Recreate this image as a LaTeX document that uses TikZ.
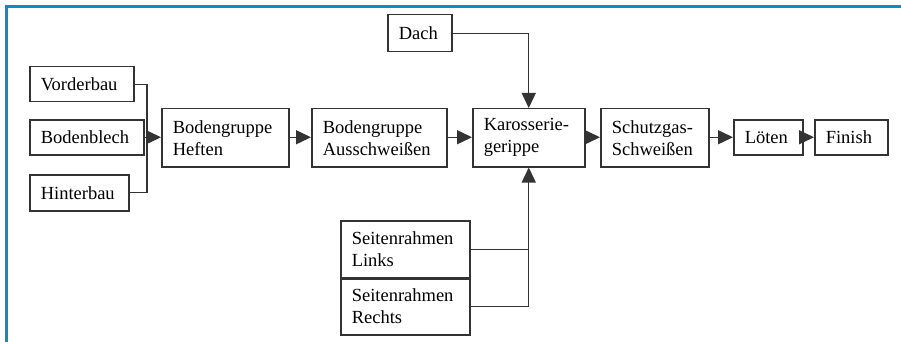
\documentclass[tikz,border=0pt]{standalone}
\usepackage{fontspec}
\setmainfont{Liberation Serif}
\usetikzlibrary{arrows.meta}
\definecolor{framec}{HTML}{0A8EC2}
\definecolor{linec}{HTML}{333333}
\begin{document}
\begin{tikzpicture}[x=1pt,y=-1pt,
  box/.style={draw=linec, line width=1.5pt, anchor=north west, inner xsep=11pt, inner ysep=0pt,
    align=left, font=\fontsize{18.5}{22}\selectfont, text=black},
  conn/.style={draw=linec, line width=1.4pt},
  arr/.style={conn, -{Triangle[length=15pt,width=14pt]}}]
\useasboundingbox (0,0) rectangle (901,342);
\fill[white] (0,0) rectangle (901,342);
\draw[framec, line width=3pt] (6.5,342) -- (6.5,6.5) -- (901,6.5);

\node[box, minimum width=104pt, minimum height=35pt, text width=82pt] (vb) at (29,66) {Vorderbau};
\node[box, minimum width=114pt, minimum height=35pt, text width=92pt] (bb) at (29,119) {Bodenblech};
\node[box, minimum width=99pt, minimum height=36pt, text width=77pt] (hb) at (29,174) {Hinterbau};
\node[box, minimum width=127pt, minimum height=58pt, text width=105pt] (hef) at (161,108) {Bodengruppe\\Heften};
\node[box, minimum width=135pt, minimum height=58pt, text width=113pt] (aus) at (311,108) {Bodengruppe\\Ausschweißen};
\node[box, minimum width=64pt, minimum height=37pt, text width=42pt] (dach) at (387,14) {Dach};
\node[box, minimum width=112pt, minimum height=58pt, text width=90pt] (kar) at (472,108) {Karosserie-\\gerippe};
\node[box, minimum width=108pt, minimum height=58pt, text width=86pt] (sg) at (600,108) {Schutzgas-\\Schweißen};
\node[box, minimum width=69pt, minimum height=35pt, text width=47pt] (lot) at (733,119) {Löten};
\node[box, minimum width=73pt, minimum height=35pt, text width=51pt] (fin) at (814,119) {Finish};
\node[box, minimum width=129pt, minimum height=57pt, text width=107pt] (sl) at (340,220) {Seitenrahmen\\Links};
\node[box, minimum width=129pt, minimum height=57pt, text width=107pt] (sr) at (340,277) {Seitenrahmen\\Rechts};
\draw[linec, line width=3pt] (sl.south west) -- (sl.south east);

\coordinate (j) at (147,0);
\draw[conn] (vb.east) -- (vb.east -| j) -- (hb.east -| j) -- (hb.east);
\draw[arr] (bb.east) -- (bb.east -| hef.west);
\draw[arr] (hef.east |- bb.east) -- (bb.east -| aus.west);
\draw[arr] (aus.east |- bb.east) -- (bb.east -| kar.west);
\draw[arr] (kar.east |- bb.east) -- (bb.east -| sg.west);
\draw[arr] (sg.east |- bb.east) -- (lot.west);
\draw[arr] (lot.east) -- (fin.west);
\draw[arr] (dach.east) -| (kar.north);
\draw[conn] (sl.east) -- (sl.east -| kar.south);
\draw[arr] (sr.east) -| (kar.south);
\end{tikzpicture}
\end{document}
